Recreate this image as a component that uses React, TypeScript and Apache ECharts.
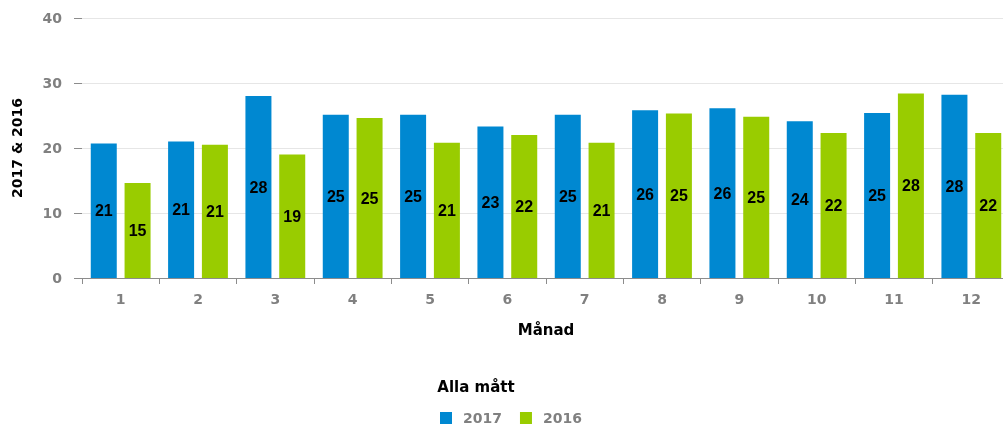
import React, { useEffect, useRef } from "react";
import * as echarts from "echarts";

const months = ["1", "2", "3", "4", "5", "6", "7", "8", "9", "10", "11", "12"];
const values2017 = [20.7, 21.0, 28.0, 25.1, 25.1, 23.3, 25.1, 25.8, 26.1, 24.1, 25.4, 28.2];
const values2016 = [14.6, 20.5, 19.0, 24.6, 20.8, 22.0, 20.8, 25.3, 24.8, 22.3, 28.4, 22.3];
const yTicks = [0, 10, 20, 30, 40];
const seriesNames = ["2017", "2016"];
const colors = ["#0088d1", "#99cc00"];

const LABEL_FONT = "'Liberation Sans', Arial, sans-serif";
const AXIS_FONT = "'DejaVu Sans', Verdana, sans-serif";

export default function App() {
  const ref = useRef<HTMLDivElement>(null);
  useEffect(() => {
    if (!ref.current) return;
    const chart = echarts.init(ref.current, null, { renderer: "svg" });
    const label = {
      show: true,
      position: "inside",
      color: "#000",
      fontFamily: LABEL_FONT,
      fontWeight: "bold",
      fontSize: 16,
      formatter: (p: any) => String(Math.round(p.value)),
    };
    chart.setOption({
      animation: false,
      textStyle: { fontFamily: AXIS_FONT },
      title: {
        text: "Alla mått",
        left: 471,
        top: 374,
        textAlign: "center",
        textStyle: { fontFamily: AXIS_FONT, fontWeight: "bold", fontSize: 15, color: "#000" },
      },
      legend: {
        data: seriesNames,
        left: 440,
        top: 411,
        padding: 0,
        icon: "rect",
        itemWidth: 12,
        itemHeight: 12,
        itemGap: 18,
        textStyle: {
          fontFamily: AXIS_FONT,
          fontWeight: "bold",
          fontSize: 14,
          color: "#808080",
          padding: [0, 0, 0, 6],
        },
      },
      grid: { left: 82, right: 1, top: 18, bottom: 150, containLabel: false },
      xAxis: {
        type: "category",
        data: months,
        name: "Månad",
        nameLocation: "middle",
        nameGap: 44,
        nameTextStyle: { fontFamily: AXIS_FONT, fontWeight: "bold", fontSize: 15, color: "#000" },
        axisLine: { show: true, lineStyle: { color: "#8c8c8c", width: 1 } },
        axisTick: { show: true, length: 6, lineStyle: { color: "#8c8c8c" } },
        axisLabel: {
          margin: 14,
          color: "#808080",
          fontFamily: AXIS_FONT,
          fontWeight: "bold",
          fontSize: 14,
        },
      },
      yAxis: {
        type: "value",
        min: yTicks[0],
        max: yTicks[yTicks.length - 1],
        interval: 10,
        name: "2017 & 2016",
        nameLocation: "middle",
        nameGap: 58,
        nameRotate: 90,
        nameTextStyle: { fontFamily: AXIS_FONT, fontWeight: "bold", fontSize: 14, color: "#000" },
        axisLine: { show: false },
        axisTick: { show: true, length: 8, lineStyle: { color: "#8c8c8c" } },
        axisLabel: {
          margin: 20,
          color: "#808080",
          fontFamily: AXIS_FONT,
          fontWeight: "bold",
          fontSize: 14,
        },
        splitLine: { show: true, lineStyle: { color: "#e6e6e6", width: 1 } },
      },
      series: [
        {
          name: seriesNames[0],
          type: "bar",
          data: values2017,
          barWidth: 26,
          barGap: "30%",
          itemStyle: { color: colors[0] },
          label,
        },
        {
          name: seriesNames[1],
          type: "bar",
          data: values2016,
          barWidth: 26,
          barGap: "30%",
          itemStyle: { color: colors[1] },
          label,
        },
      ],
    });
    return () => chart.dispose();
  }, []);
  return (
    <div
      ref={ref}
      style={{ position: "fixed", left: 0, top: 0, width: 1011, height: 428 }}
    />
  );
}
